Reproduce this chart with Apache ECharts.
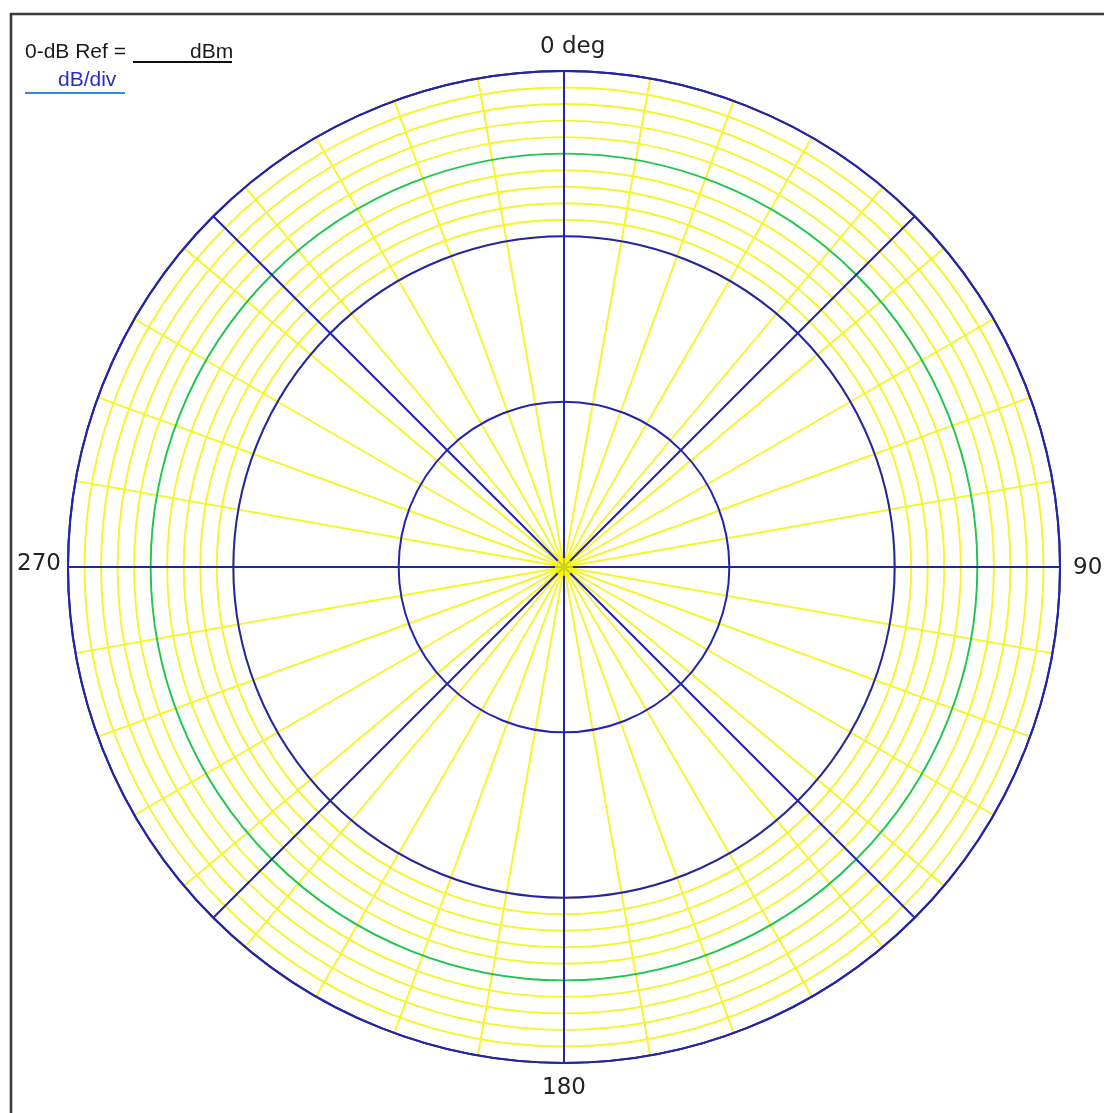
<!DOCTYPE html>
<html><head><meta charset="utf-8">
<script src="https://cdn.jsdelivr.net/npm/echarts@6/dist/echarts.min.js"></script>
<style>html,body{margin:0;padding:0;background:#fff}#c{width:1104px;height:1113px}</style>
</head><body><div id="c"></div>
<script>
// ---- chart content ----
const angleLabels = ['0 deg', '90', '180', '270'];
const angleMin = 0, angleMax = 360;
const fineAngleStep = 10;      // yellow spokes
const majorAngleStep = 45;     // blue spokes
const radialMin = 0, radialMax = 30;   // dB below reference (3 x 10 dB)
const majorRadialStep = 10;    // blue rings
const fineBandMin = 20;        // 1 dB rings in the outer band
const fineRadialStep = 1;
const greenRingValue = 25;
const headerTexts = ['0-dB Ref =', 'dBm', 'dB/div'];

// ---- styles ----
const BLUE = '#2323ac', YELLOW = '#f5f52c', GREEN = '#1ec648';
const CX = 564, CY = 567, R = 496;
const R_BAND = R * (fineBandMin - radialMin) / (radialMax - radialMin);

const fineRingColors = [];
for (let v = fineBandMin; v <= radialMax; v += fineRadialStep) fineRingColors.push(v === greenRingValue ? GREEN : YELLOW);

const hidden = { axisLine: {show: false}, axisTick: {show: false}, axisLabel: {show: false} };

const chart = echarts.init(document.getElementById('c'), null, {renderer: 'canvas'});
chart.setOption({
  backgroundColor: '#ffffff',
  animation: false,
  polar: [
    {center: [CX, CY], radius: [0, R]},
    {center: [CX, CY], radius: [R_BAND, R]},
    {center: [CX, CY], radius: [0, R]}
  ],
  angleAxis: [
    Object.assign({polarIndex: 0, type: 'value', min: angleMin, max: angleMax, interval: fineAngleStep, startAngle: 90, clockwise: true, z: 1,
      splitLine: {show: true, lineStyle: {color: YELLOW, width: 1.9}}}, hidden),
    Object.assign({polarIndex: 1, type: 'value', min: angleMin, max: angleMax, interval: fineAngleStep, startAngle: 90, clockwise: true, z: 1,
      splitLine: {show: false}}, hidden),
    Object.assign({polarIndex: 2, type: 'value', min: angleMin, max: angleMax, interval: majorAngleStep, startAngle: 90, clockwise: true, z: 3,
      splitLine: {show: true, lineStyle: {color: BLUE, width: 2}}}, hidden, {axisLine: {show: true, lineStyle: {color: BLUE, width: 2}}})
  ],
  radiusAxis: [
    Object.assign({polarIndex: 0, type: 'value', min: radialMin, max: radialMax, interval: majorRadialStep, z: 1, splitLine: {show: false}}, hidden),
    Object.assign({polarIndex: 1, type: 'value', min: fineBandMin, max: radialMax, interval: fineRadialStep, z: 2,
      splitLine: {show: true, lineStyle: {color: fineRingColors, width: 1.9}}}, hidden),
    Object.assign({polarIndex: 2, type: 'value', min: radialMin, max: radialMax, interval: majorRadialStep, z: 3,
      splitLine: {show: true, lineStyle: {color: BLUE, width: 2}}}, hidden)
  ],
  series: [{
    type: 'scatter', coordinateSystem: 'polar', polarIndex: 2, z: 10,
    symbol: 'circle', symbolSize: 18, itemStyle: {color: '#f7f700'}, silent: true,
    data: [[radialMin, angleMin]]
  }],
  graphic: [
    {type: 'polyline', z: 20, shape: {points: [[11, 1113], [11, 14], [1104, 14]]}, style: {stroke: '#3a3a3a', lineWidth: 2.6, fill: null}},
    {type: 'text', z: 20, left: 25, top: 42, style: {text: headerTexts[0], font: '21px "Liberation Sans", Arial, sans-serif', fill: '#1a1a1a'}},
    {type: 'text', z: 20, left: 190, top: 42, style: {text: headerTexts[1], font: '21px "Liberation Sans", Arial, sans-serif', fill: '#1a1a1a'}},
    {type: 'line', z: 20, shape: {x1: 133, y1: 62, x2: 232, y2: 62}, style: {stroke: '#111', lineWidth: 1.8}},
    {type: 'text', z: 20, left: 58, top: 70, style: {text: headerTexts[2], font: '21px "Liberation Sans", Arial, sans-serif', fill: '#2b2bc8'}},
    {type: 'line', z: 20, shape: {x1: 25, y1: 93, x2: 125, y2: 93}, style: {stroke: '#3a86dc', lineWidth: 1.8}},
    {type: 'text', z: 20, x: 540, y: 47, style: {text: angleLabels[0], font: '23px "DejaVu Sans", sans-serif', fill: '#222', textAlign: 'left', textVerticalAlign: 'middle'}},
    {type: 'text', z: 20, x: 1073, y: 568, style: {text: angleLabels[1], font: '23px "DejaVu Sans", sans-serif', fill: '#222', textAlign: 'left', textVerticalAlign: 'middle'}},
    {type: 'text', z: 20, x: 564, y: 1088, style: {text: angleLabels[2], font: '23px "DejaVu Sans", sans-serif', fill: '#222', textAlign: 'center', textVerticalAlign: 'middle'}},
    {type: 'text', z: 20, x: 61, y: 564, style: {text: angleLabels[3], font: '23px "DejaVu Sans", sans-serif', fill: '#222', textAlign: 'right', textVerticalAlign: 'middle'}}
  ]
});
</script></body></html>
